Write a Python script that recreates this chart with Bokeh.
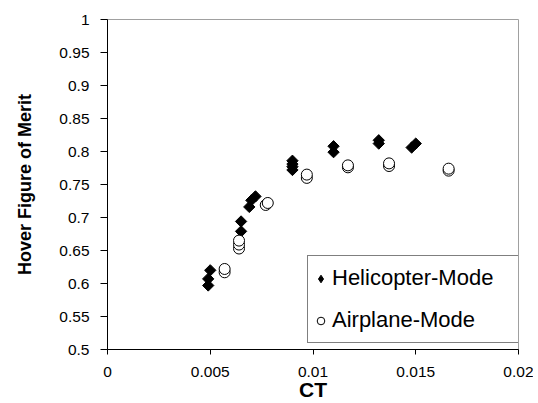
import numpy as np
from bokeh.plotting import figure
from bokeh.models import ColumnDataSource, Legend, LegendItem, FixedTicker, Range1d
from bokeh.embed import file_html
from bokeh.resources import INLINE

# Data
heli_ct = [0.0049, 0.0049, 0.0050, 0.0065, 0.0065, 0.0069, 0.0070, 0.0072,
           0.0090, 0.0090, 0.0090, 0.0090, 0.0110, 0.0110, 0.0132, 0.0132,
           0.0148, 0.0150]
heli_fm = [0.597, 0.607, 0.620, 0.679, 0.694, 0.716, 0.726, 0.732,
           0.772, 0.777, 0.781, 0.786, 0.799, 0.808, 0.812, 0.817,
           0.806, 0.812]
air_ct = [0.0057, 0.0057, 0.0064, 0.0064, 0.0064, 0.0077, 0.0078,
          0.0097, 0.0097, 0.0117, 0.0117, 0.0137, 0.0137, 0.0166, 0.0166]
air_fm = [0.617, 0.622, 0.653, 0.659, 0.665, 0.719, 0.722,
          0.760, 0.765, 0.776, 0.779, 0.778, 0.782, 0.771, 0.774]

x_ticks = [0, 0.005, 0.01, 0.015, 0.02]
x_labels = ["0", "0.005", "0.01", "0.015", "0.02"]
y_ticks = [0.5, 0.55, 0.6, 0.65, 0.7, 0.75, 0.8, 0.85, 0.9, 0.95, 1.0]
y_labels = ["0.5", "0.55", "0.6", "0.65", "0.7", "0.75", "0.8", "0.85", "0.9", "0.95", "1"]
x_title = "CT"
y_title = "Hover Figure of Merit"

FONT = "Liberation Sans"

p = figure(width=533, height=403, output_backend="svg", toolbar_location=None,
           x_range=Range1d(0, 0.02), y_range=Range1d(0.5, 1.0),
           min_border_left=107, min_border_right=15, min_border_top=19,
           min_border_bottom=54)
p.grid.visible = False
p.outline_line_color = "#a0a0a0"
p.outline_line_width = 1
p.background_fill_color = "white"
p.border_fill_color = "white"

heli_src = ColumnDataSource(dict(x=heli_ct, y=heli_fm))
air_src = ColumnDataSource(dict(x=air_ct, y=air_fm))

# diamond-shaped key glyph for the legend (hidden beneath the main markers)
r_heli_key = p.scatter("x", "y", source=heli_src, marker="diamond", size=8,
                       fill_color="black", line_color="black")
r_heli = p.scatter("x", "y", source=heli_src, marker="square", angle=np.pi / 4,
                   size=8, fill_color="black", line_color="black", line_width=1)
r_air = p.scatter("x", "y", source=air_src, marker="circle", size=11,
                  fill_color="white", line_color="black", line_width=1)

# Axes
xa = p.xaxis[0]
xa.ticker = FixedTicker(ticks=x_ticks)
xa.major_label_overrides = {t: l for t, l in zip(x_ticks, x_labels)}
xa.axis_label = x_title
xa.axis_label_text_font = FONT
xa.axis_label_text_font_style = "bold"
xa.axis_label_text_font_size = "21px"
xa.axis_label_text_color = "black"
xa.axis_label_standoff = -2
xa.major_label_text_font = FONT
xa.major_label_text_font_size = "15.5px"
xa.major_label_text_color = "black"
xa.major_label_standoff = 12
xa.major_tick_out = 5
xa.major_tick_in = 0
xa.minor_tick_out = 0
xa.minor_tick_in = 0
xa.axis_line_color = "black"
xa.major_tick_line_color = "black"

ya = p.yaxis[0]
ya.ticker = FixedTicker(ticks=y_ticks)
ya.major_label_overrides = {t: l for t, l in zip(y_ticks, y_labels)}
ya.axis_label = y_title
ya.axis_label_text_font = FONT
ya.axis_label_text_font_style = "bold"
ya.axis_label_text_font_size = "18px"
ya.axis_label_text_color = "black"
ya.axis_label_standoff = 21
ya.major_label_text_font = FONT
ya.major_label_text_font_size = "15.5px"
ya.major_label_text_color = "black"
ya.major_label_standoff = 11
ya.major_tick_out = 7
ya.major_tick_in = 0
ya.minor_tick_out = 0
ya.minor_tick_in = 0
ya.axis_line_color = "black"
ya.major_tick_line_color = "black"

legend = Legend(items=[LegendItem(label="Helicopter-Mode", renderers=[r_heli_key]),
                       LegendItem(label="Airplane-Mode", renderers=[r_air])],
                location=(200, 6))
legend.border_line_color = "black"
legend.border_line_width = 1
legend.background_fill_color = "white"
legend.background_fill_alpha = 1
legend.padding = 3
legend.margin = 0
legend.spacing = 4
legend.glyph_width = 19
legend.glyph_height = 19
legend.label_standoff = 2
legend.label_width = 183
legend.label_height = 38
legend.label_text_font = FONT
legend.label_text_font_size = "22px"
legend.label_text_color = "black"
p.add_layout(legend, "center")

open("out.html", "w").write(file_html(p, INLINE))
